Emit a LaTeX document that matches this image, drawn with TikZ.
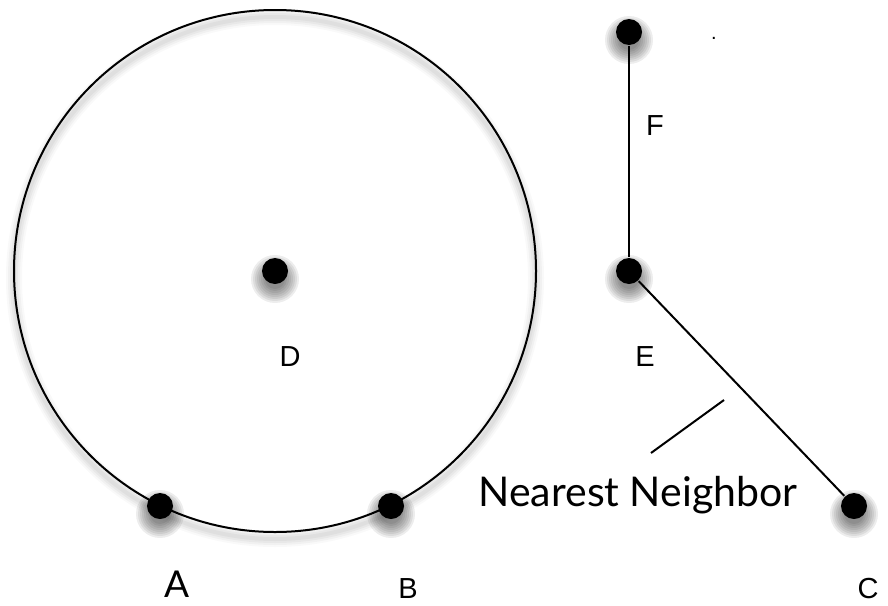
\documentclass[tikz,border=0pt]{standalone}
\usepackage{fontspec}
\setmainfont{Liberation Sans}
\newfontfamily\gillfont{Lato}
\usepackage{tikz}
\usetikzlibrary{backgrounds}
\tikzset{
  pt/.style={circle,fill=black,inner sep=0pt,minimum size=26pt},
  lbl/.style={anchor=base,inner sep=0pt,font=\fontsize{29}{29}\selectfont},
  biglbl/.style={anchor=base,inner sep=0pt,font=\gillfont\fontsize{41}{41}\selectfont}
}

\begin{document}
\begin{tikzpicture}[x=1pt,y=-1pt,line width=2pt]
\useasboundingbox (0,0) rectangle (888,605);
\foreach \w/\o in {16/0.025,12/0.03,8/0.035,4/0.04}
  \draw[line width=\w pt,opacity=\o,yshift=-7pt] (275,271) circle[radius=261pt];
\draw (275,271) circle[radius=261pt];
\node[pt] (D) at (275,271) {};
\node[pt] (A) at (160,506) {};
\node[pt] (B) at (391,506) {};
\node[pt] (F) at (629,32) {};
\node[pt] (E) at (629,271) {};
\node[pt] (C) at (854,506) {};
\begin{scope}[on background layer]
\foreach \n in {A,B,C,D,E,F}
  \foreach \r in {24,22,...,10}
    \fill[black,opacity=0.07] ([yshift=-8pt]\n.center) circle[radius=\r pt];
\end{scope}
\draw (F)--(E);
\draw (E)--(C);
\node[lbl] (Dl) at (290,366) {D};
\node[lbl] (El) at (645,366) {E};
\node[lbl] (Fl) at (655,135) {F};
\node[lbl] (Bl) at (408,598) {B};
\node[lbl] (Cl) at (868,598) {C};
\node[biglbl,font=\gillfont\fontsize{37}{37}\selectfont] (Al) at (177,597) {A};
\node[lbl,font=\fontsize{20}{20}\selectfont] (dot) at (714,39) {.};
\node[biglbl] (nn) at (638,506) {Nearest Neighbor};
\coordinate (nn1) at (651,453);
\coordinate (nn2) at (724,400);
\draw (nn1)--(nn2);
\end{tikzpicture}
\end{document}
